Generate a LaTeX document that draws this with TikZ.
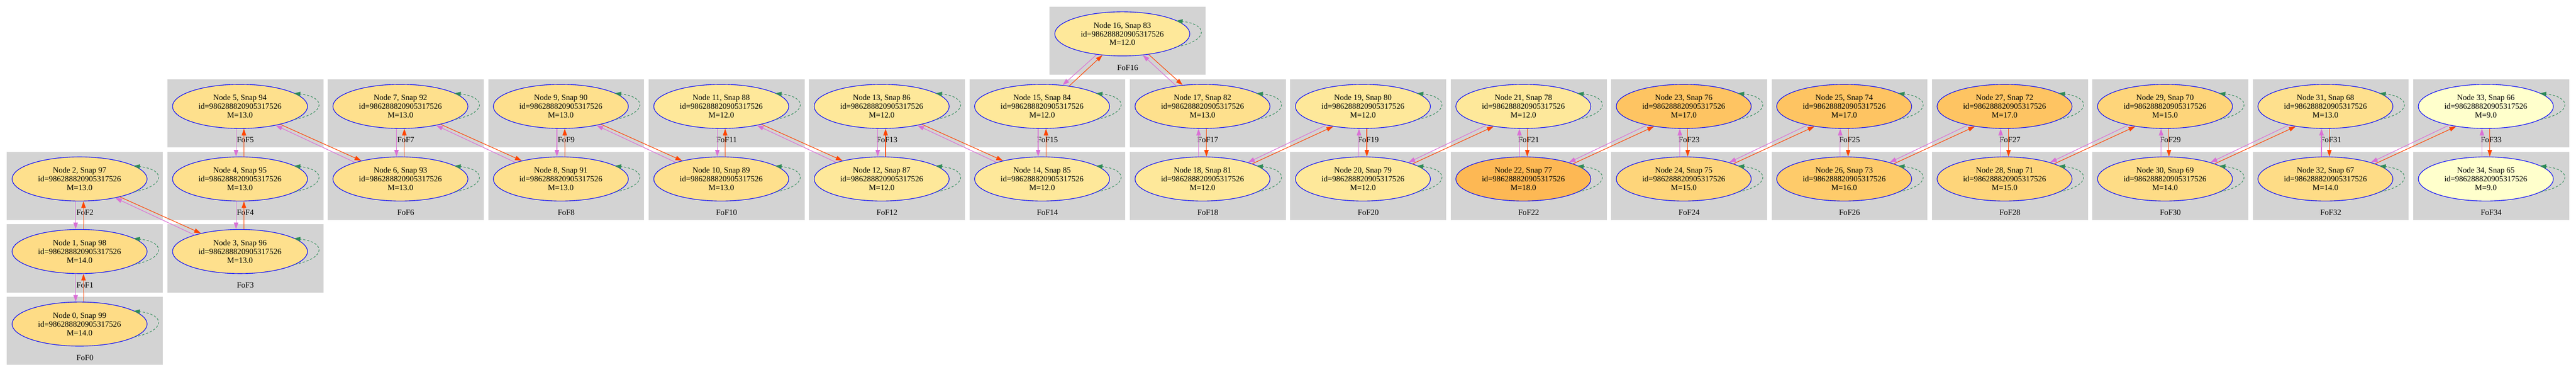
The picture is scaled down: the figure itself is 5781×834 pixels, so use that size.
\documentclass[tikz,border=0pt]{standalone}
\usepackage{fontspec}
\setmainfont{Liberation Serif}
\usetikzlibrary{shapes.geometric,arrows.meta}
\definecolor{clusterbg}{HTML}{D3D3D3}
\definecolor{orangered}{HTML}{FF4500}
\definecolor{orchid}{HTML}{DA70D6}
\definecolor{seagreen}{HTML}{2E8B57}
\definecolor{m9}{HTML}{FFFFCC}
\definecolor{m12}{HTML}{FEE89A}
\definecolor{m13}{HTML}{FEE08D}
\definecolor{m14}{HTML}{FEDC86}
\definecolor{m15}{HTML}{FED57A}
\definecolor{m16}{HTML}{FECB6A}
\definecolor{m17}{HTML}{FEC462}
\definecolor{m18}{HTML}{FDB854}
\begin{document}
\begin{tikzpicture}[x=1pt,y=-1pt,
  fofnode/.style={ellipse, draw=blue, line width=1.3pt, minimum width=303pt, minimum height=99pt,
    inner sep=0pt, align=center, font=\fontsize{18}{19.5}\selectfont},
  foflabel/.style={inner sep=0pt, font=\fontsize{18}{19.5}\selectfont},
  rededge/.style={draw=orangered, line width=1.3pt, -{Triangle[length=15pt,width=10pt]}},
  pinkedge/.style={draw=orchid, line width=1.3pt, -{Triangle[length=15pt,width=10pt]}},
  selfloop/.style={draw=seagreen, line width=1.2pt, dash pattern=on 5pt off 4pt,
    -{Triangle[length=14pt,width=10pt]}}]
\fill[white] (0,0) rectangle (5781,834);
\useasboundingbox (0,0) rectangle (5781,834);
% clusters and nodes
\foreach \n/\c/\r/\s/\m/\f in {
  0/0/4/99/14.0/m14, 1/0/3/98/14.0/m14, 2/0/2/97/13.0/m13,
  3/1/3/96/13.0/m13, 4/1/2/95/13.0/m13, 5/1/1/94/13.0/m13,
  6/2/2/93/13.0/m13, 7/2/1/92/13.0/m13, 8/3/2/91/13.0/m13,
  9/3/1/90/13.0/m13, 10/4/2/89/13.0/m13, 11/4/1/88/12.0/m12,
  12/5/2/87/12.0/m12, 13/5/1/86/12.0/m12, 14/6/2/85/12.0/m12,
  15/6/1/84/12.0/m12, 16/6.5/0/83/12.0/m12, 17/7/1/82/13.0/m13,
  18/7/2/81/12.0/m12, 19/8/1/80/12.0/m12, 20/8/2/79/12.0/m12,
  21/9/1/78/12.0/m12, 22/9/2/77/18.0/m18, 23/10/1/76/17.0/m17,
  24/10/2/75/15.0/m15, 25/11/1/74/17.0/m17, 26/11/2/73/16.0/m16,
  27/12/1/72/17.0/m17, 28/12/2/71/15.0/m15, 29/13/1/70/15.0/m15,
  30/13/2/69/14.0/m14, 31/14/1/68/13.0/m13, 32/14/2/67/14.0/m14,
  33/15/1/66/9.0/m9, 34/15/2/65/9.0/m9}{
  \pgfmathsetmacro\X{15.6+360*\c}
  \pgfmathsetmacro\Y{15+162.8*\r}
  \fill[clusterbg] (\X,\Y) rectangle ++(350,152.8);
  \node[foflabel] (f\n) at (\X+175,\Y+136.5) {FoF\n};
  \node[fofnode, fill=\f] (n\n) at (\X+163,\Y+61) {Node \n, Snap \s\\id=986288820905317526\\M=\m};
}
% vertical pairs, left half (lower i, upper i+1)
\foreach \lo/\up in {0/1,1/2,3/4,4/5,6/7,8/9,10/11,12/13,14/15}{
  \draw[rededge] (n\lo.80) -- (n\up.280);
  \draw[pinkedge] (n\up.260) -- (n\lo.100);
}
% vertical pairs, right half (upper i, lower i+1)
\foreach \up/\lo in {17/18,19/20,21/22,23/24,25/26,27/28,29/30,31/32,33/34}{
  \draw[rededge] (n\up.280) -- (n\lo.80);
  \draw[pinkedge] (n\lo.100) -- (n\up.260);
}
% diagonals down-right
\foreach \U/\D in {2/3,5/6,7/8,9/10,11/12,13/14}{
  \draw[rededge] (n\U.336) -- (n\D.155);
  \draw[pinkedge] (n\D.160) -- (n\U.332);
}
% diagonals up-right
\foreach \D/\U in {18/19,20/21,22/23,24/25,26/27,28/29,30/31,32/33}{
  \draw[rededge] (n\D.17) -- (n\U.214);
  \draw[pinkedge] (n\U.207) -- (n\D.20);
}
% around node 16
\draw[rededge] (n15.37) -- (n16.227);
\draw[pinkedge] (n16.219) -- (n15.46);
\draw[rededge] (n16.322) -- (n17.133);
\draw[pinkedge] (n17.142) -- (n16.314);
% self loops
\foreach \n in {0,...,34}{
  \draw[selfloop] ([shift={(123,29)}]n\n.center) .. controls +(71.3,-14.3) and +(71.3,7.8) .. ([shift={(121.4,-29.3)}]n\n.center);
}
\end{tikzpicture}
\end{document}
